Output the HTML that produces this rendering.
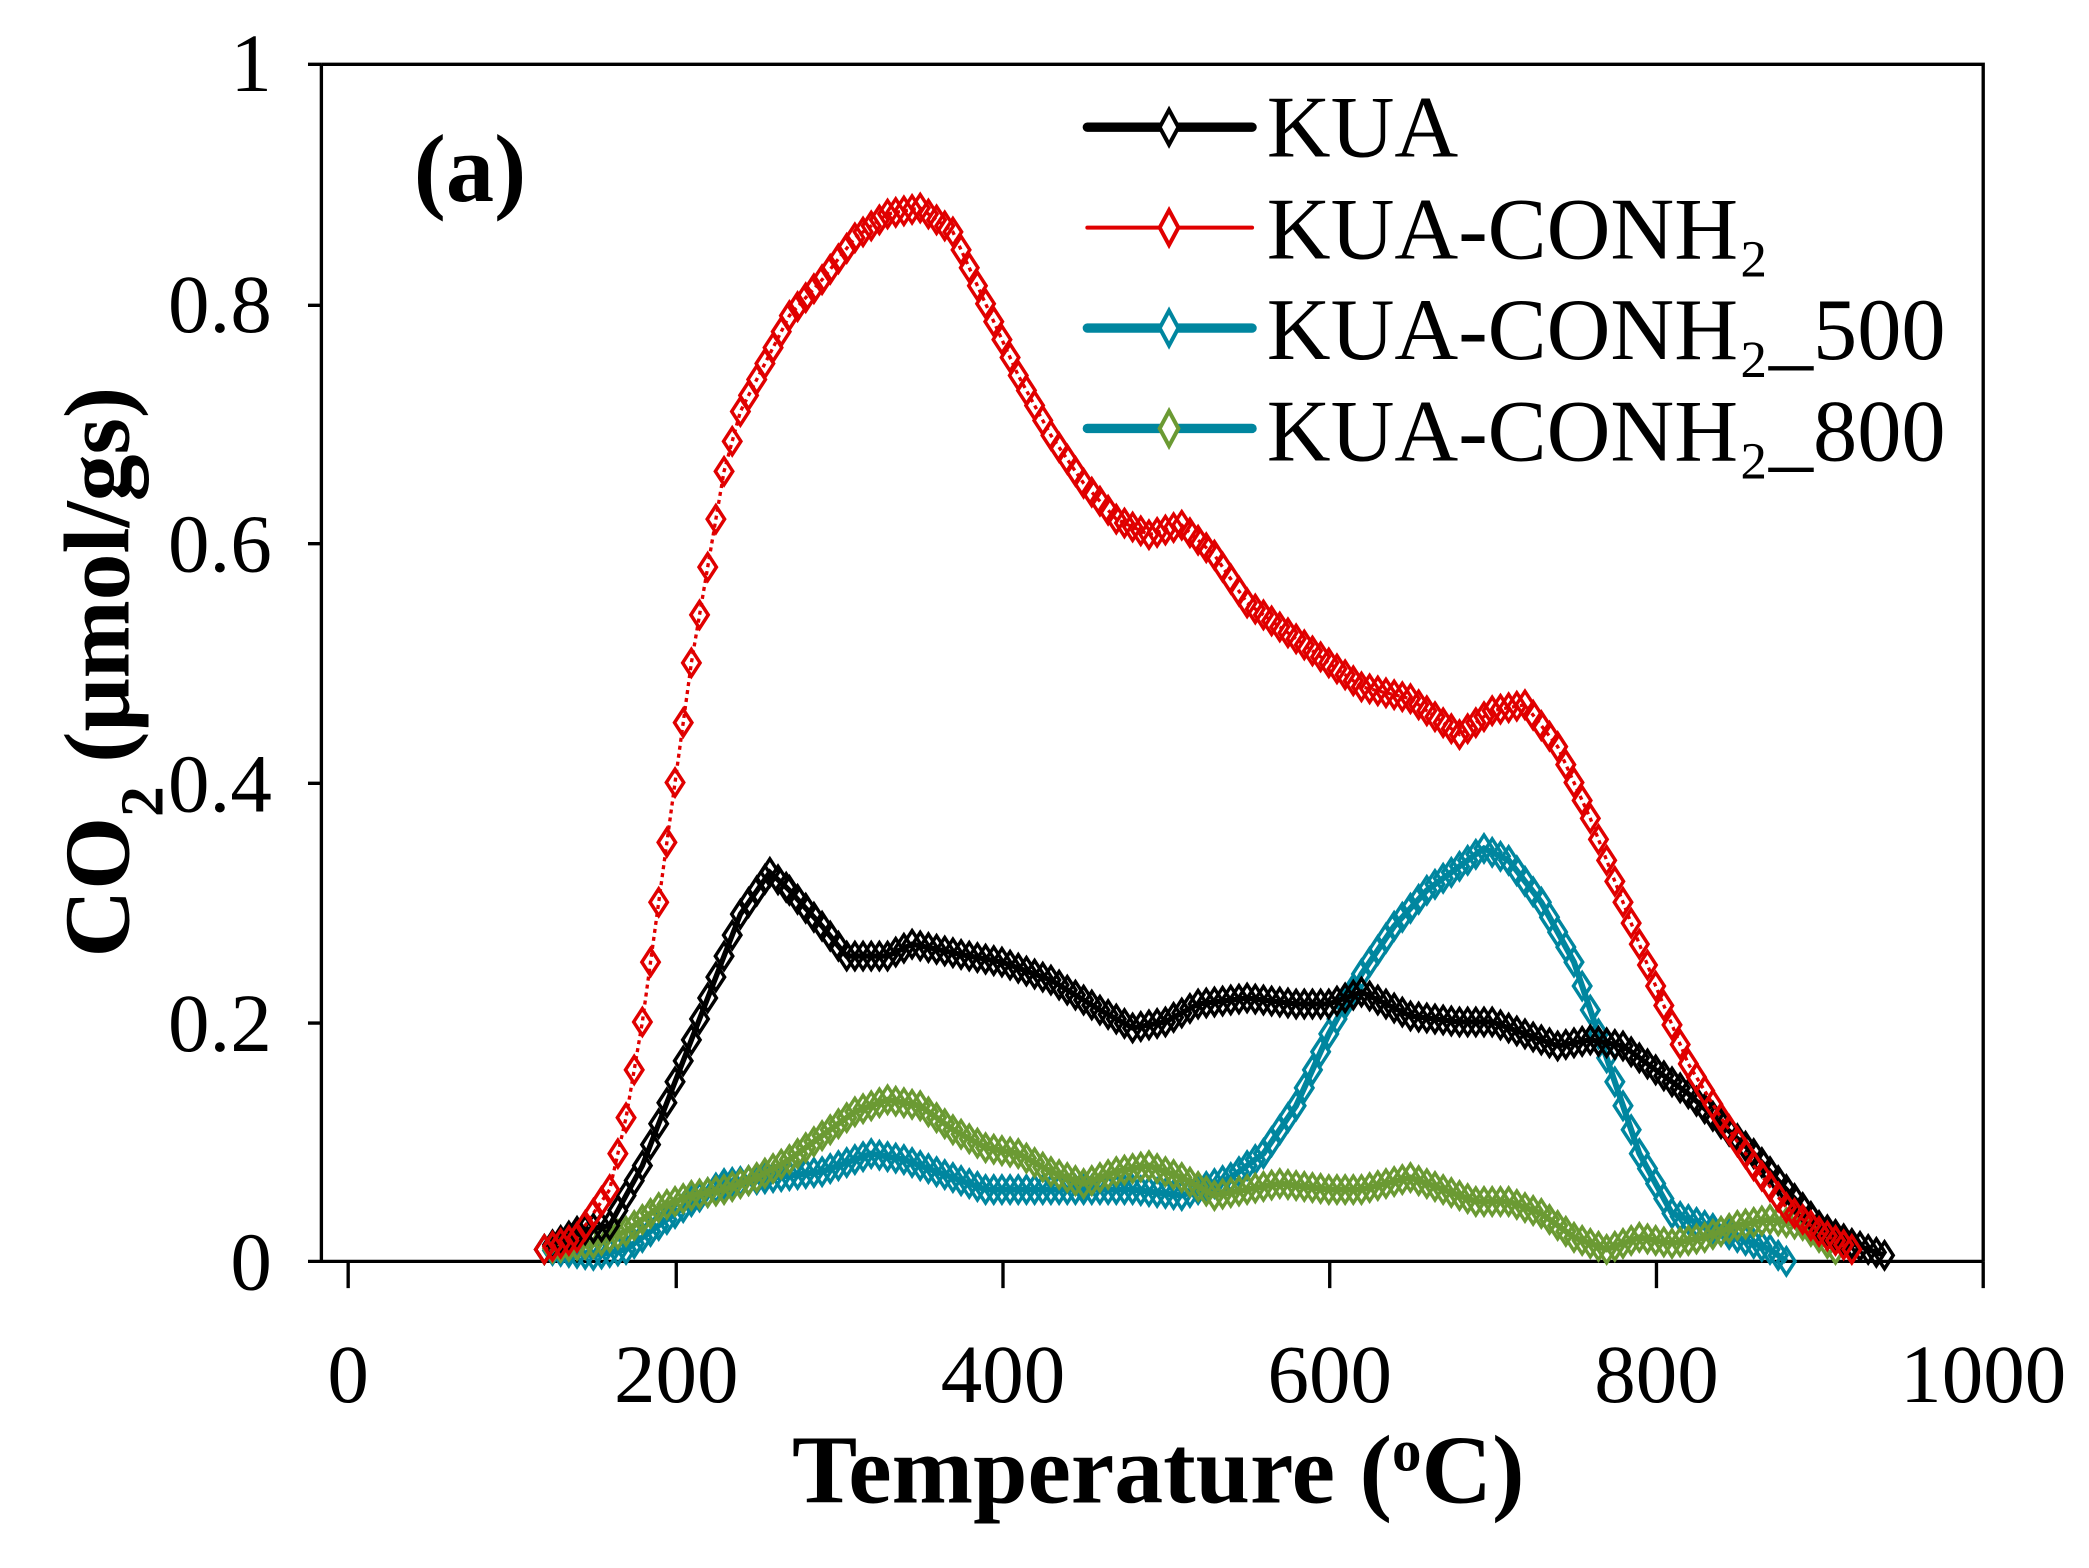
<!DOCTYPE html>
<html><head><meta charset="utf-8"><style>html,body{margin:0;padding:0;background:#fff}svg{display:block}</style></head>
<body>
<svg id="s" xmlns="http://www.w3.org/2000/svg" width="2089" height="1568" viewBox="0 0 1560 1171" preserveAspectRatio="none" font-family="'Liberation Serif',serif">
<rect width="1560" height="1171" fill="#fff"/>
<g stroke="#000" stroke-width="2.5" fill="none">
<path d="M240,48H1481V942M240,48V942H1481"/>
<path d="M230,48H240M230,228H240M230,406H240M230,585H240M230,764H240M230,942H240"/>
<path d="M260,942V962M505,942V962M749,942V962M993,942V962M1237,942V962M1481,942V962"/>
</g>
<g font-size="62" text-anchor="end">
<text x="203" y="68">1</text><text x="203" y="248">0.8</text><text x="203" y="427">0.6</text><text x="203" y="606">0.4</text><text x="203" y="785">0.2</text><text x="203" y="963">0</text>
</g>
<g font-size="62" text-anchor="middle">
<text x="260" y="1047">0</text><text x="505" y="1047">200</text><text x="749" y="1047">400</text><text x="993" y="1047">600</text><text x="1237" y="1047">800</text><text x="1481" y="1047">1000</text>
</g>
<text transform="translate(865,1122)" font-size="73" font-weight="bold" text-anchor="middle">Temperature (<tspan baseline-shift="super" font-size="44">o</tspan>C)</text>
<text transform="translate(96,502) rotate(-90)" font-size="70" font-weight="bold" text-anchor="middle">CO<tspan baseline-shift="sub" font-size="46">2</tspan> (μmol/gs)</text>
<text transform="translate(309,150)" font-size="72" font-weight="bold">(a)</text>
<g id="series"></g>
<g id="leg"></g>
<g font-size="66">
<text x="946" y="117">KUA</text>
<text x="946" y="193">KUA-CONH₂</text>
<text x="946" y="268">KUA-CONH₂_500</text>
<text x="946" y="344">KUA-CONH₂_800</text>
</g>
</svg>
<script>
var X=function(t){return 260+t*1.2205},Y=function(v){return 942-v*894};
var D={
k:[[120,.01],[140,.025],[160,.03],[180,.08],[200,.15],[220,.22],[240,.29],[258,.325],[270,.31],[290,.28],[305,.255],[330,.255],[345,.265],[380,.255],[400,.25],[430,.235],[460,.21],[480,.195],[500,.2],[520,.215],[550,.22],[580,.215],[600,.215],[620,.225],[650,.205],[680,.2],[700,.2],[720,.19],[740,.18],[760,.185],[780,.18],[800,.16],[820,.14],[840,.115],[860,.09],[880,.06],[900,.03],[920,.015],[940,.005]],
r:[[120,.01],[140,.02],[160,.06],[170,.12],[180,.2],[190,.3],[200,.4],[210,.5],[220,.58],[230,.66],[240,.71],[255,.75],[270,.79],[290,.82],[310,.855],[330,.875],[350,.88],[370,.86],[390,.8],[410,.74],[430,.69],[450,.65],[470,.62],[490,.607],[510,.615],[530,.59],[550,.55],[570,.53],[600,.5],[620,.48],[650,.47],[680,.44],[700,.46],[720,.465],[740,.43],[760,.37],[780,.3],[800,.23],[820,.165],[840,.12],[860,.08],[880,.045],[900,.025],[920,.01]],
t:[[120,.01],[150,.005],[170,.01],[190,.03],[210,.05],[230,.065],[260,.07],[290,.075],[320,.09],[340,.085],[360,.075],[390,.06],[420,.06],[450,.06],[480,.06],[510,.055],[540,.07],[560,.09],[580,.13],[600,.19],[620,.24],[640,.28],[660,.31],[680,.33],[695,.345],[710,.335],[730,.3],[750,.25],[770,.17],[790,.09],[810,.04],[830,.03],[850,.02],[870,.01],[880,0]],
g:[[120,.01],[150,.015],[170,.025],[190,.045],[210,.055],[230,.06],[250,.07],[270,.085],[290,.105],[310,.125],[330,.135],[350,.13],[370,.11],[390,.095],[410,.09],[430,.075],[450,.065],[470,.075],[490,.08],[510,.07],[530,.055],[550,.06],[570,.065],[600,.06],[620,.06],[650,.07],[670,.06],[690,.05],[710,.05],[730,.04],[750,.02],[770,.01],[790,.02],[810,.015],[830,.02],[850,.03],[870,.035],[890,.03],[910,.01]]};
var st={k:['#000',4,'#000',''],r:['#e00000',2.5,'#e00000','3 3'],t:['#00869f',4.5,'#00869f',''],g:['#6b9a33',4.5,'#6b9a33','']};
var h='';
['t','g','k','r'].forEach(function(k){
 var p=D[k],pts=[];
 for(var i=0;i<p.length-1;i++){var a=p[i],b=p[i+1];for(var tt=a[0];tt<b[0];tt+=5){var f=(tt-a[0])/(b[0]-a[0]);pts.push([tt,a[1]+f*(b[1]-a[1])]);}}
 pts.push(p[p.length-1]);
 var s=st[k];
 var d='M'+pts.map(function(q){return X(q[0]).toFixed(1)+','+Y(q[1]).toFixed(1)}).join('L');
 h+='<path d="'+d+'" fill="none" stroke="'+s[0]+'" stroke-width="'+s[1]+'"'+(s[3]?' stroke-dasharray="'+s[3]+'"':'')+'/>';
 pts.forEach(function(q){var x=X(q[0]),y=Y(q[1]);h+='<path d="M'+x.toFixed(1)+','+(y-10).toFixed(1)+'l6.5,10l-6.5,10l-6.5,-10z" fill="none" stroke="'+s[2]+'" stroke-width="2.6"/>';});
});
document.getElementById('series').innerHTML=h;
var L=[[95,'#000',7,'#000'],[170,'#e00000',3,'#e00000'],[245,'#00869f',7,'#00869f'],[320,'#00869f',7,'#6b9a33']],lh='';
L.forEach(function(l){lh+='<path d="M812,'+l[0]+'H935" stroke="'+l[1]+'" stroke-width="'+l[2]+'" stroke-linecap="round"/><path d="M873,'+(l[0]-13)+'l7,13l-7,13l-7,-13z" fill="#fff" stroke="'+l[3]+'" stroke-width="3"/>';});
document.getElementById('leg').innerHTML=lh;
</script>
</body></html>
